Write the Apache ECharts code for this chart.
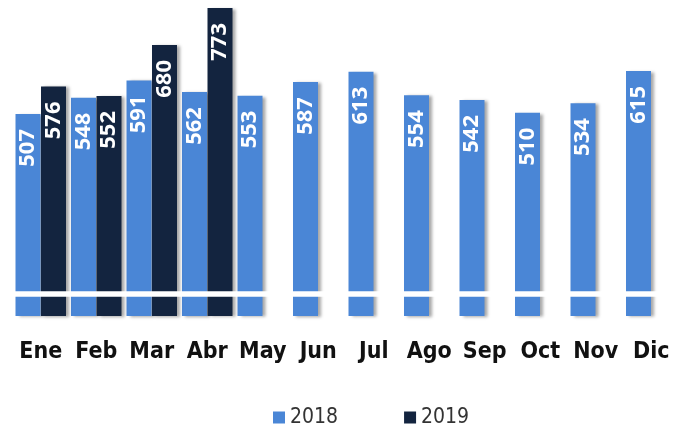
<!DOCTYPE html>
<html>
<head>
<meta charset="utf-8">
<script src="https://cdn.jsdelivr.net/npm/echarts@6/dist/echarts.min.js"></script>
<style>
  html, body { margin: 0; padding: 0; background: #ffffff; }
  #chart { width: 688px; height: 429px; }
</style>
</head>
<body>
<div id="chart"></div>
<script>
// Monthly totals, 2018 vs 2019
const months = ['Ene', 'Feb', 'Mar', 'Abr', 'May', 'Jun', 'Jul', 'Ago', 'Sep', 'Oct', 'Nov', 'Dic'];
const values2018 = [507, 548, 591, 562, 553, 587, 613, 554, 542, 510, 534, 615];
const values2019 = [576, 552, 680, 773, null, null, null, null, null, null, null, null];
const seriesNames = ['2018', '2019'];

const colors = ['#4a86d6', '#13243f'];
const narrowFont = "'Liberation Sans Narrow', 'DejaVu Sans Condensed', 'Roboto Condensed', 'Liberation Sans', sans-serif";

const barLabel = {
  show: true,
  position: 'insideTop',
  rotate: 90,
  align: 'right',
  verticalAlign: 'middle',
  distance: 15,
  color: '#ffffff',
  fontFamily: 'Open Sans',
  fontWeight: 'bold',
  fontSize: 22
};

const barShadow = {
  shadowColor: 'rgba(0,0,0,0.35)',
  shadowBlur: 3,
  shadowOffsetX: 3,
  shadowOffsetY: 1
};

const chart = echarts.init(document.getElementById('chart'), null, { renderer: 'canvas' });

chart.setOption({
  animation: false,
  backgroundColor: '#ffffff',
  grid: { left: 13, right: 9, top: 0, bottom: 113, containLabel: false },
  xAxis: {
    type: 'category',
    data: months,
    axisLine: { show: false },
    axisTick: { show: false },
    axisLabel: {
      interval: 0,
      margin: 25,
      color: '#111111',
      fontFamily: narrowFont,
      fontWeight: 'bold',
      fontSize: 23
    }
  },
  yAxis: {
    type: 'value',
    min: 0,
    max: 793,
    show: false,
    splitLine: { show: false }
  },
  legend: {
    data: seriesNames,
    left: 268,
    top: 402,
    itemWidth: 12,
    itemHeight: 12,
    itemGap: 66,
    icon: 'rect',
    textStyle: {
      color: '#333333',
      fontFamily: narrowFont,
      fontSize: 21
    }
  },
  series: [
    {
      name: seriesNames[0],
      type: 'bar',
      data: values2018,
      barWidth: 25,
      barGap: '2%',
      itemStyle: Object.assign({ color: colors[0] }, barShadow),
      label: barLabel
    },
    {
      name: seriesNames[1],
      type: 'bar',
      data: values2019,
      barWidth: 25,
      itemStyle: Object.assign({ color: colors[1] }, barShadow),
      label: barLabel
    },
    {
      // white break stripe across the base of the bars
      name: 'corte',
      type: 'line',
      data: months.map(() => null),
      z: 10,
      silent: true,
      symbol: 'none',
      markArea: {
        z: 10,
        silent: true,
        itemStyle: { color: '#ffffff', opacity: 1 },
        data: [[{ yAxis: 48 }, { yAxis: 62 }]]
      }
    }
  ]
});
</script>
</body>
</html>
